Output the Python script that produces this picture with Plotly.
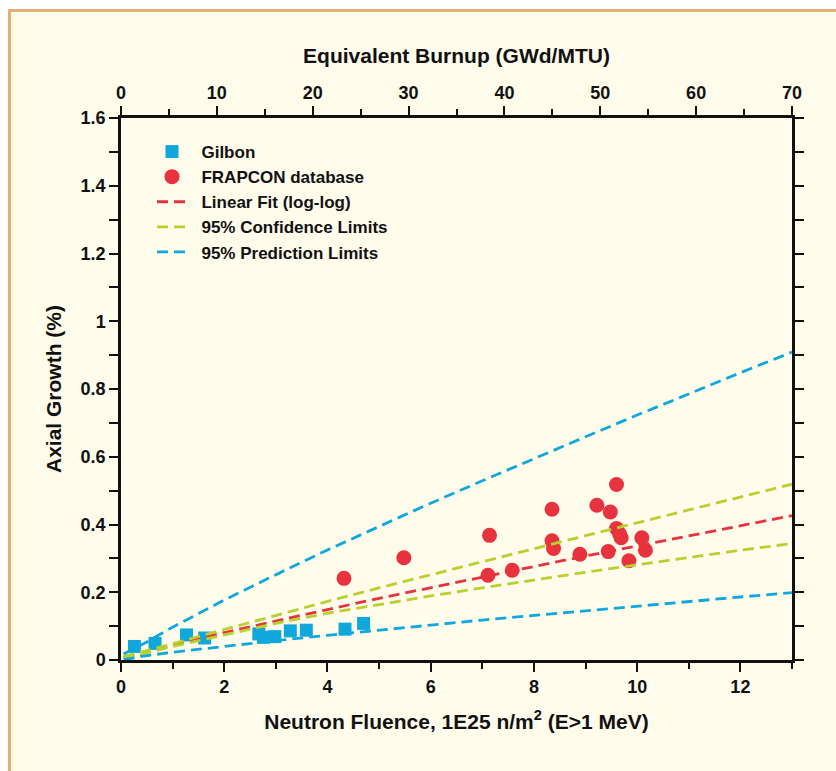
import plotly.graph_objects as go

# ---- data ----
gilbon_x = [0.26, 0.66, 1.27, 1.62, 2.67, 2.76, 2.98, 3.28, 3.59, 4.34, 4.70]
gilbon_y = [0.040, 0.049, 0.074, 0.065, 0.077, 0.067, 0.069, 0.086, 0.088, 0.091, 0.108]

frap_x = [4.32, 5.48, 7.14, 7.11, 7.58, 8.35, 8.35, 8.38, 8.89, 9.22, 9.48, 9.60,
          9.44, 9.60, 9.66, 9.69, 9.84, 10.09, 10.16]
frap_y = [0.241, 0.302, 0.368, 0.250, 0.265, 0.445, 0.352, 0.329, 0.312, 0.457, 0.437, 0.518,
          0.320, 0.388, 0.372, 0.361, 0.293, 0.361, 0.324]

line_x = [0.05, 0.5, 1, 2, 3, 4, 5, 6, 7, 8, 9, 10, 11, 12, 13]
fit_y = [0.008, 0.024, 0.044, 0.081, 0.116, 0.149, 0.182, 0.214, 0.245, 0.276, 0.307, 0.337, 0.367, 0.396, 0.426]
conf_hi_y = [0.010, 0.027, 0.048, 0.090, 0.132, 0.173, 0.213, 0.252, 0.291, 0.329, 0.367, 0.405, 0.443, 0.480, 0.519]
conf_lo_y = [0.006, 0.021, 0.040, 0.075, 0.108, 0.138, 0.164, 0.189, 0.213, 0.237, 0.259, 0.281, 0.303, 0.324, 0.344]
pred_hi_y = [0.018, 0.053, 0.097, 0.177, 0.252, 0.325, 0.394, 0.463, 0.529, 0.595, 0.659, 0.723, 0.786, 0.848, 0.909]
pred_lo_y = [0.001, 0.013, 0.023, 0.041, 0.057, 0.073, 0.089, 0.103, 0.118, 0.132, 0.146, 0.159, 0.173, 0.186, 0.199]

fluence_ticks = [0, 2, 4, 6, 8, 10, 12]
burnup_ticks = [0, 10, 20, 30, 40, 50, 60, 70]
growth_ticks = [0, 0.2, 0.4, 0.6, 0.8, 1, 1.2, 1.4, 1.6]
growth_labels = ["0", "0.2", "0.4", "0.6", "0.8", "1", "1.2", "1.4", "1.6"]
burnup_range = [0, 70]

BLUE = "#10A8DC"
RED = "#E8333F"
GREEN = "#B8D12E"
BG = "#FFFCEC"
TAN = "#E2B274"
INK = "#111111"
FONT = "Liberation Sans Narrow, Arial Narrow, Liberation Sans, Arial"

# plot-area pixel geometry (for paper-coordinate frame shapes)
L, R, T, B, W, H = 121, 792, 118, 660, 836, 771
def px(x):
    return (x - L) / (R - L)
def py(y):
    return (B - y) / (B - T)

NB = "\u00a0\u00a0"
DASH = "11px,6px"

fig = go.Figure()
fig.add_trace(go.Scatter(x=gilbon_x, y=gilbon_y, mode="markers", name=NB + "<b>Gilbon</b>",
                         marker=dict(symbol="square", size=13, color=BLUE)))
fig.add_trace(go.Scatter(x=frap_x, y=frap_y, mode="markers", name=NB + "<b>FRAPCON database</b>",
                         marker=dict(symbol="circle", size=15, color=RED)))
fig.add_trace(go.Scatter(x=line_x, y=fit_y, mode="lines", name=NB + "<b>Linear Fit (log-log)</b>",
                         line=dict(color=RED, width=2.8, dash=DASH)))
fig.add_trace(go.Scatter(x=line_x, y=conf_hi_y, mode="lines", name=NB + "<b>95% Confidence Limits</b>",
                         line=dict(color=GREEN, width=2.8, dash=DASH)))
fig.add_trace(go.Scatter(x=line_x, y=conf_lo_y, mode="lines", showlegend=False,
                         line=dict(color=GREEN, width=2.8, dash=DASH)))
fig.add_trace(go.Scatter(x=line_x, y=pred_hi_y, mode="lines", name=NB + "<b>95% Prediction Limits</b>",
                         line=dict(color=BLUE, width=2.8, dash=DASH)))
fig.add_trace(go.Scatter(x=line_x, y=pred_lo_y, mode="lines", showlegend=False,
                         line=dict(color=BLUE, width=2.8, dash=DASH)))
# invisible trace to activate the top axis
fig.add_trace(go.Scatter(x=burnup_range, y=[0, 0], xaxis="x2", mode="lines",
                         line=dict(width=0), showlegend=False, hoverinfo="skip"))

tickfont = dict(family=FONT, size=18, color=INK)
major = dict(ticks="outside", ticklen=9, tickwidth=1.5, tickcolor=INK)
minor_style = dict(ticks="outside", ticklen=6, tickwidth=1.5, tickcolor=INK)

fig.update_layout(
    width=W, height=H,
    paper_bgcolor="white", plot_bgcolor=BG,
    margin=dict(l=L, r=W - R, t=T, b=H - B),
    font=dict(family=FONT, color=INK),
    showlegend=True,
    legend=dict(x=px(152), y=py(134), xanchor="left", yanchor="top",
                bgcolor="rgba(0,0,0,0)", font=dict(family=FONT, size=17, color=INK),
                tracegroupgap=0),
    xaxis=dict(range=[0, 13], tickmode="array", tickvals=fluence_ticks,
               ticktext=["<b>%d</b>" % v for v in fluence_ticks], **major,
               minor=dict(dtick=1, **minor_style),
               showline=True, linecolor=INK, linewidth=2.5, mirror=True,
               showgrid=False, zeroline=False, tickfont=tickfont,
               title=dict(text="<b>Neutron Fluence, 1E25 n/m<sup>2</sup> (E>1 MeV)</b>",
                          font=dict(family=FONT, size=21, color=INK), standoff=18)),
    xaxis2=dict(range=burnup_range, overlaying="x", side="top", anchor="y",
                tickmode="array", tickvals=burnup_ticks,
                ticktext=["<b>%d</b>" % v for v in burnup_ticks], **major,
                minor=dict(dtick=5, **minor_style),
                showline=True, linecolor=INK, linewidth=2.5,
                showgrid=False, zeroline=False, tickfont=tickfont,
                title=dict(text="<b>Equivalent Burnup (GWd/MTU)</b>",
                           font=dict(family=FONT, size=21, color=INK), standoff=14)),
    yaxis=dict(range=[0, 1.6], tickmode="array", tickvals=growth_ticks,
               ticktext=["<b>%s</b>" % s for s in growth_labels], **major,
               minor=dict(dtick=0.1, **minor_style),
               showline=True, linecolor=INK, linewidth=2.5, mirror="allticks",
               showgrid=False, zeroline=False, tickfont=tickfont,
               title=dict(text="<b>Axial Growth (%)</b>",
                          font=dict(family=FONT, size=21, color=INK), standoff=14)),
    shapes=[
        dict(type="rect", xref="paper", yref="paper",
             x0=px(9.5), x1=px(W + 20), y0=py(H + 20), y1=py(10.5),
             line=dict(width=3, color=TAN), fillcolor=BG, layer="below"),
    ],
)

fig.write_html("out.html")
